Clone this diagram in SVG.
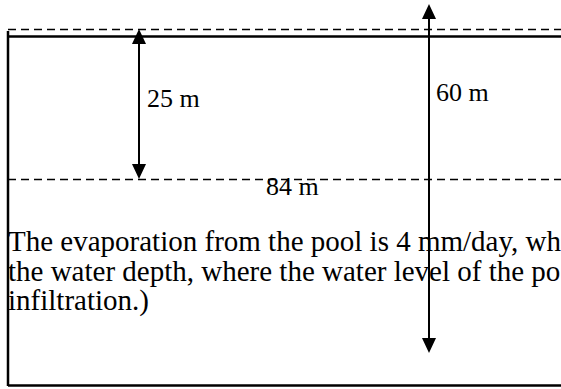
<svg xmlns="http://www.w3.org/2000/svg" width="561" height="389" viewBox="0 0 561 389">
  <style>
    .solid { stroke: #000; stroke-width: 2.5; fill: none; }
    .dash { stroke: #000; stroke-width: 1.5; stroke-dasharray: 8 5; fill: none; }
    .arrow { stroke: #000; stroke-width: 2; fill: none; }
    .lbl { font-family: "Liberation Serif", "Times New Roman", serif; font-size: 26px; fill: #000; }
    .para { font-family: "Liberation Serif", "Times New Roman", serif; font-size: 29px; fill: #000; }
  </style>
  <defs>
    <marker id="ah" markerUnits="userSpaceOnUse" markerWidth="16" markerHeight="16" viewBox="0 -8 16 16" refX="0" refY="0" orient="auto-start-reverse">
      <path d="M0,-7 L15,0 L0,7 z" fill="#000"/>
    </marker>
  </defs>
  <rect width="561" height="389" fill="#fff"/>

  <g id="pool">
    <line class="dash" x1="8" y1="29.5" x2="561" y2="29.5"/>
    <line class="solid" x1="8" y1="36.5" x2="561" y2="36.5"/>
    <line class="solid" x1="8" y1="31" x2="8" y2="386"/>
    <line class="solid" x1="8" y1="385.5" x2="561" y2="385.5"/>
    <line class="dash" x1="8" y1="179.5" x2="561" y2="179.5"/>
  </g>

  <g id="paragraph">
    <text class="para" x="8" y="251">The evaporation from the pool is 4 mm/day, wh</text>
    <text class="para" x="8" y="281">the water depth, where the water level of the po</text>
    <text class="para" x="8" y="310">infiltration.)</text>
  </g>

  <g id="label-25"><text class="lbl" x="147" y="107">25 m</text></g>
  <g id="label-60"><text class="lbl" x="436" y="101">60 m</text></g>
  <g id="label-84"><text class="lbl" x="266" y="195">84 m</text></g>

  <g id="connectors">
    <line class="arrow" x1="139" y1="44" x2="139" y2="164" marker-start="url(#ah)" marker-end="url(#ah)"/>
    <line class="arrow" x1="429" y1="19" x2="429" y2="338" marker-start="url(#ah)" marker-end="url(#ah)"/>
  </g>
</svg>
